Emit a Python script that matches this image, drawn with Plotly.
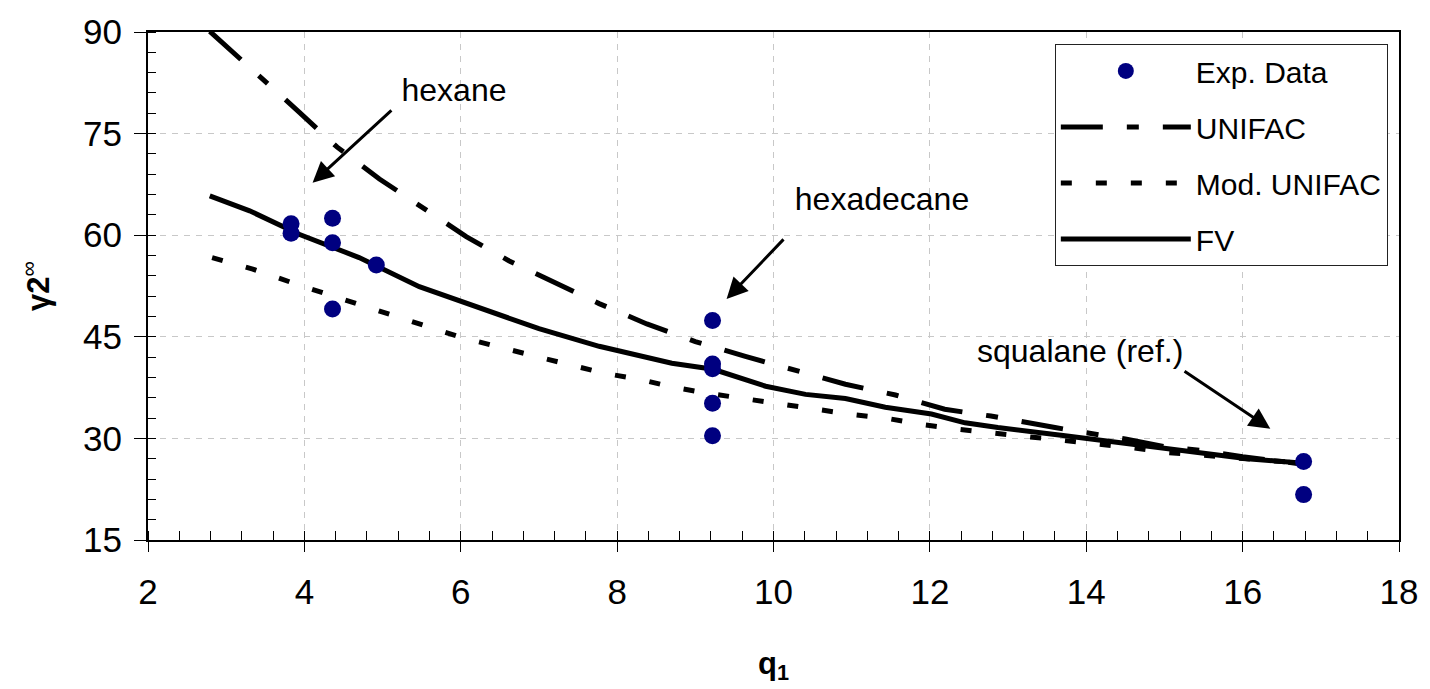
import plotly.graph_objects as go

# Experimental data
exp_q = [3.83, 3.83, 4.36, 4.36, 4.36, 4.92, 9.22, 9.22, 9.22, 9.22, 9.22, 16.78, 16.78]
exp_v = [61.7, 60.3, 62.5, 58.9, 49.1, 55.6, 47.4, 41.0, 40.3, 35.2, 30.4, 26.6, 21.7]

# UNIFAC
unifac_q = [2.79, 3.17, 3.47, 3.94, 4.42, 4.96, 5.50, 6.07, 6.62, 7.20, 7.77, 8.38, 9.00,
            9.64, 10.28, 10.92, 11.56, 12.19, 12.78, 13.1, 13.6, 14.5, 15.0, 15.5, 16.0, 16.7]
unifac_v = [90.1, 86.0, 83.0, 78.1, 73.0, 68.3, 64.1, 59.8, 56.2, 53.0, 49.9, 46.9, 44.3,
            42.1, 40.0, 38.0, 36.4, 34.3, 33.3, 32.6, 31.6, 29.9, 28.8, 28.2, 27.3, 26.3]

# Mod. UNIFAC
mod_q = [2.82, 3.34, 3.94, 4.6, 5.3, 5.98, 7.0, 7.84, 8.30, 8.70, 9.14, 9.66, 10.11, 10.56,
         11.02, 11.48, 11.93, 12.39, 12.77, 13.2, 13.73, 14.2, 14.6, 15.05, 15.5, 16.0, 16.7]
mod_v = [56.7, 55.0, 52.6, 50.2, 47.5, 45.0, 42.0, 39.6, 38.7, 37.6, 36.7, 35.8, 34.9, 34.3,
         33.5, 32.9, 32.0, 31.3, 30.8, 30.3, 29.6, 29.1, 28.6, 27.9, 27.5, 27.0, 26.4]

# FV
fv_q = [2.79, 3.30, 3.94, 4.70, 5.47, 6.24, 7.00, 7.77, 8.70, 9.23, 9.90, 10.41, 10.92,
        11.43, 12.02, 12.45, 12.87, 13.73, 14.57, 15.42, 16.06, 16.70]
fv_v = [65.8, 63.6, 60.1, 56.7, 52.4, 49.3, 46.2, 43.6, 41.1, 40.2, 37.7, 36.5, 35.9,
        34.6, 33.6, 32.3, 31.6, 30.4, 29.2, 27.9, 27.0, 26.4]

x_ticks = [2, 4, 6, 8, 10, 12, 14, 16, 18]
y_ticks = [15, 30, 45, 60, 75, 90]

FONT = "Liberation Sans, Arial, sans-serif"

fig = go.Figure()
fig.add_trace(go.Scatter(x=unifac_q, y=unifac_v, mode="lines", name="UNIFAC",
                         legendgroup="b", legendrank=2,
                         line=dict(color="black", width=5, dash="42px,24px,12px,24px")))
fig.add_trace(go.Scatter(x=mod_q, y=mod_v, mode="lines", name="Mod. UNIFAC",
                         legendgroup="c", legendrank=3,
                         line=dict(color="black", width=5, dash="11px,24px")))
fig.add_trace(go.Scatter(x=fv_q, y=fv_v, mode="lines", name="FV",
                         legendgroup="d", legendrank=4,
                         line=dict(color="black", width=5)))
fig.add_trace(go.Scatter(x=exp_q, y=exp_v, mode="markers", name="Exp. Data",
                         legendgroup="a", legendrank=1,
                         marker=dict(color="#000080", size=17)))

# labels with arrows: (text, head q, head v, tail q, tail v, xanchor, yanchor, width, height)
notes = [
    ("hexane", 4.105, 67.73, 5.113, 78.43, "left", "bottom", 122, None),
    ("hexadecane", 9.400, 50.59, 10.128, 59.38, "left", "bottom", 192, 56),
    ("squalane (ref.)", 16.354, 31.41, 15.257, 39.90, "right", "bottom", None, None),
]
for t, hx, hy, tx, ty, xa, ya, w, h in notes:
    fig.add_annotation(x=hx, y=hy, ax=tx, ay=ty, axref="x", ayref="y", text=t,
                       xanchor=xa, yanchor=ya, width=w, height=h, valign="top", align="center",
                       showarrow=True, arrowhead=2, arrowsize=1.4, arrowwidth=3,
                       arrowcolor="black", font=dict(family=FONT, size=32, color="black"))

fig.update_layout(
    width=1430, height=689,
    margin=dict(l=148, r=28, t=28, b=149),
    paper_bgcolor="white", plot_bgcolor="white",
    font=dict(family=FONT, color="black"),
    showlegend=True,
    legend=dict(x=(1057 - 148) / 1254, y=(540 - 40) / 512, xanchor="left", yanchor="top",
                bgcolor="white", bordercolor="#222222", borderwidth=1,
                font=dict(family=FONT, size=30, color="black"),
                itemwidth=130, tracegroupgap=14),
    xaxis=dict(range=[2, 18], tickvals=x_ticks, ticktext=[str(v) for v in x_ticks],
               showgrid=True, gridcolor="#c8c8c8", griddash="6px,6px", gridwidth=1,
               showline=True, linecolor="black", linewidth=2, mirror=True,
               ticks="outside", ticklen=10, tickwidth=1, tickcolor="black",
               ticklabelstandoff=10,
               minor=dict(dtick=0.4, ticks="inside", ticklen=9, tickcolor="black", showgrid=False),
               tickfont=dict(family=FONT, size=35), zeroline=False,
               title=dict(text="<b>q<sub>1</sub></b>", font=dict(family=FONT, size=31), standoff=42)),
    yaxis=dict(range=[15, 90], tickvals=y_ticks, ticktext=[str(v) for v in y_ticks],
               showgrid=True, gridcolor="#c8c8c8", griddash="6px,6px", gridwidth=1,
               showline=True, linecolor="black", linewidth=2, mirror=True,
               ticks="outside", ticklen=12, tickwidth=1, tickcolor="black",
               ticklabelstandoff=5,
               minor=dict(dtick=3, ticks="inside", ticklen=8, tickcolor="black", showgrid=False),
               tickfont=dict(family=FONT, size=35), zeroline=False,
               title=dict(text="<b>γ2</b><sup>∞</sup>", font=dict(family=FONT, size=31), standoff=24)),
)

fig.write_html("out.html")
